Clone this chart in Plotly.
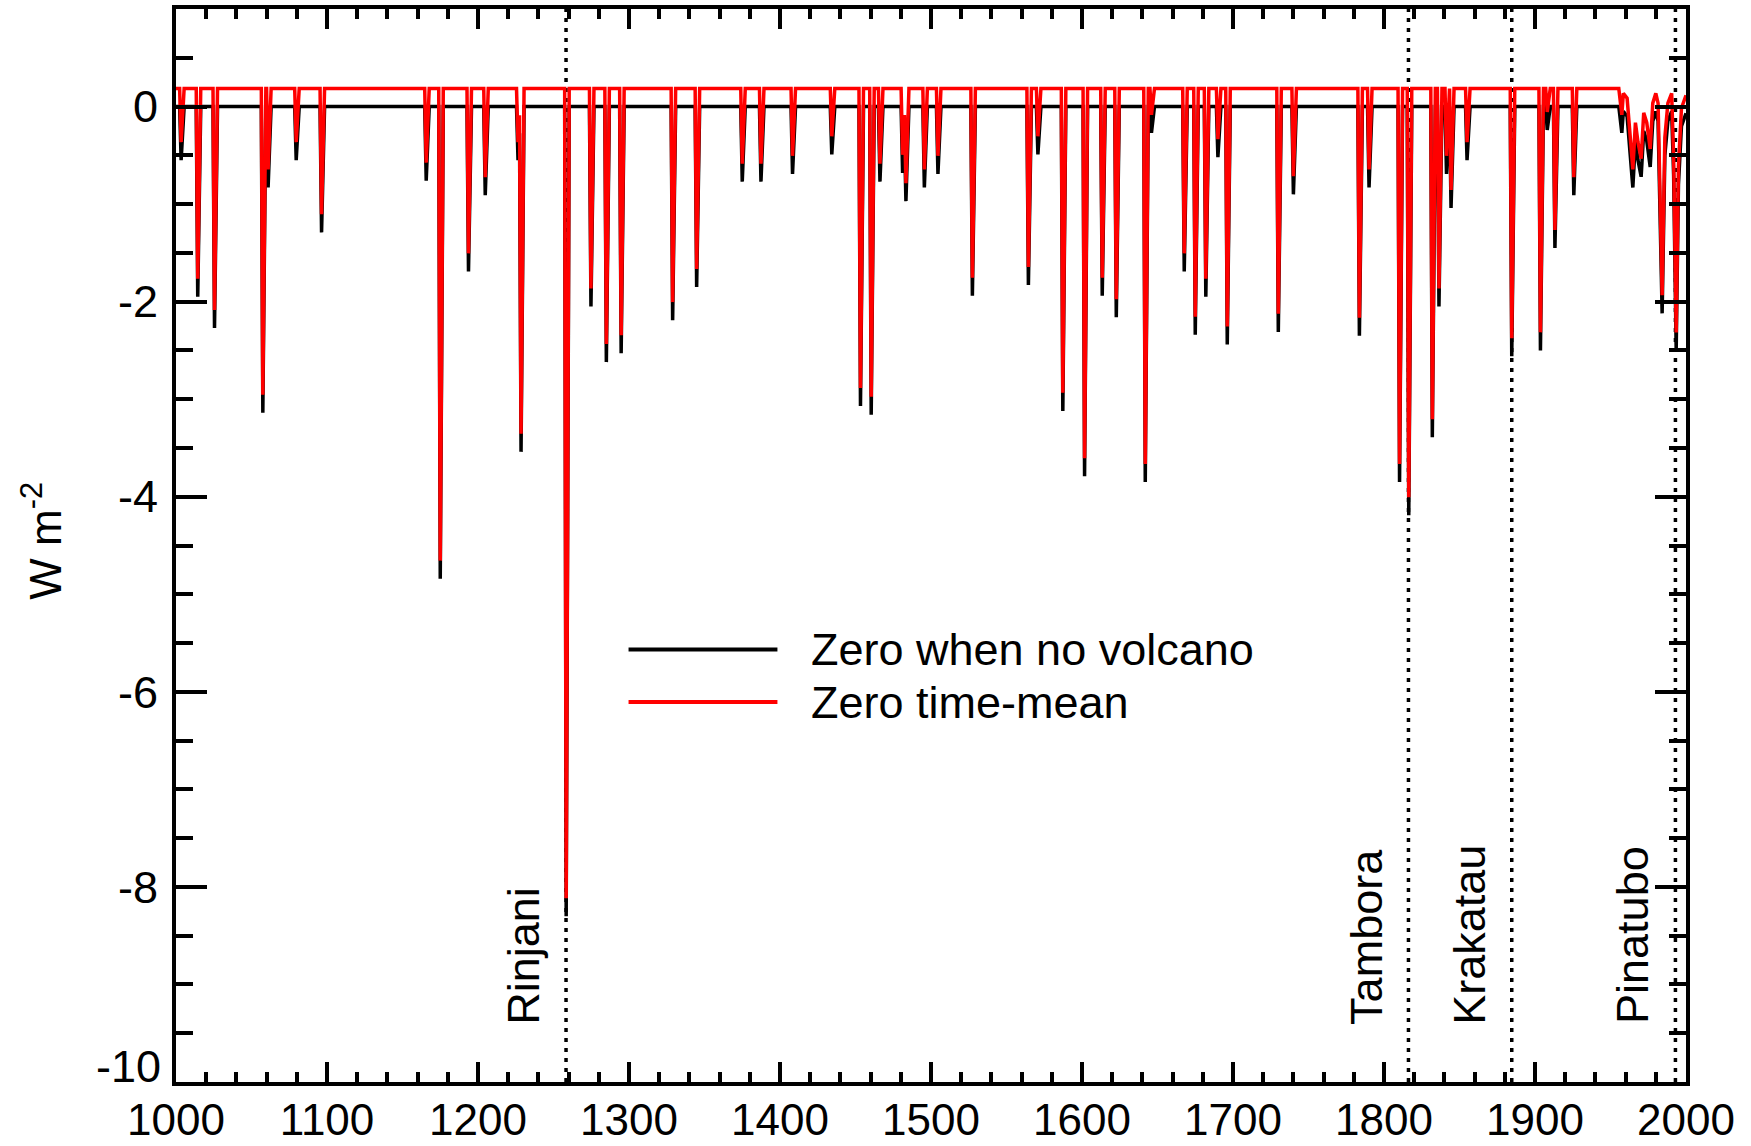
import plotly.graph_objects as go

# ---------------- data ----------------
spike_years = [1003.4, 1014.4, 1025.5, 1057.5, 1061.0, 1079.6, 1096.4, 1165.7, 1175.0, 1193.7,
               1204.8, 1226.5, 1228.5, 1258.4, 1274.8, 1285.0, 1294.8, 1328.9, 1344.8, 1375.0,
               1387.4, 1408.3, 1434.3, 1453.3, 1460.4, 1466.2, 1481.2, 1483.4, 1495.6, 1504.6,
               1527.4, 1564.5, 1570.8, 1587.3, 1601.7, 1613.4, 1622.7, 1641.9, 1646.0, 1667.7,
               1675.0, 1682.0, 1690.0, 1696.2, 1730.0, 1740.0, 1783.7, 1790.1, 1810.3, 1816.4,
               1832.0, 1836.4, 1841.4, 1844.4, 1855.0, 1884.6, 1903.6, 1908.1, 1913.2, 1925.7]
spike_peaks = [-0.55, -1.95, -2.27, -3.14, -0.83, -0.55, -1.29, -0.76, -4.84, -1.69,
               -0.91, -0.55, -3.54, -8.30, -2.05, -2.62, -2.53, -2.19, -1.85, -0.77,
               -0.77, -0.69, -0.49, -3.07, -3.16, -0.77, -0.68, -0.97, -0.83, -0.69,
               -1.94, -1.83, -0.49, -3.12, -3.79, -1.94, -2.16, -3.85, -0.27, -1.69,
               -2.34, -1.95, -0.52, -2.44, -2.31, -0.90, -2.35, -0.83, -3.85, -4.19,
               -3.39, -2.05, -0.69, -1.04, -0.55, -2.56, -2.50, -0.24, -1.45, -0.91]

# modern (continuous) record, 1955-2000
modern_years = [1955.5, 1957.5, 1958.5, 1961.0, 1963.0, 1964.8, 1966.5, 1968.2, 1970.3, 1972.0,
                1974.0, 1976.3, 1978.0, 1980.0, 1981.5, 1982.5, 1984.2, 1986.0, 1988.0, 1990.5,
                1991.8, 1993.5, 1995.0, 1997.0, 2000.0]
modern_values = [0.0, -0.27, -0.05, -0.10, -0.45, -0.83, -0.35, -0.55, -0.72, -0.25,
                 -0.35, -0.62, -0.15, -0.05, -0.15, -0.90, -2.12, -0.50, -0.15, -0.05,
                 -0.70, -2.50, -0.80, -0.20, -0.07]

time_mean_offset = 0.185          # shift of the "zero time-mean" series

volcano_names = ["Rinjani", "Tambora", "Krakatau", "Pinatubo"]
volcano_years = [1258.3, 1816.2, 1884.6, 1993.0]
volcano_label_x = [1230.1, 1788.4, 1856.6, 1964.6]

series_names = ["Zero when no volcano", "Zero time-mean"]

x_tick_vals = [1000, 1100, 1200, 1300, 1400, 1500, 1600, 1700, 1800, 1900, 2000]
x_tick_text = [str(v) for v in x_tick_vals]
y_tick_vals = [0, -2, -4, -6, -8]
y_tick_text = ["0", "-2", "-4", "-6", "-8"]
y_bottom_label = "-10"            # drawn a little above the corner, as in the original

# ---------------- build line vertices ----------------
RISE, DECAY = 1.0, 2.0


def spike_value(x):
    v = 0.0
    for yr, pk in zip(spike_years, spike_peaks):
        if yr - RISE <= x <= yr:
            f = 1 - (yr - x) / RISE
        elif yr < x <= yr + DECAY:
            f = 1 - (x - yr) / DECAY
        else:
            continue
        v = min(v, pk * f)
    return v


xs = {1000.0, modern_years[0] - 0.5}
for yr in spike_years:
    xs.update([yr - RISE, yr, yr + DECAY])
xs = sorted(xs)
black_x = list(xs) + modern_years
black_y = [spike_value(x) for x in xs] + modern_values
red_y = [v + time_mean_offset for v in black_y]

FONT = "Liberation Sans, Arial, Helvetica, sans-serif"

fig = go.Figure()
fig.add_trace(go.Scatter(x=black_x, y=black_y, mode="lines", name=series_names[0],
                         line=dict(color="black", width=3.5), showlegend=False))
fig.add_trace(go.Scatter(x=black_x, y=red_y, mode="lines", name=series_names[1],
                         line=dict(color="#ff0000", width=3.5), showlegend=False))

# dotted event lines
for yr in volcano_years:
    fig.add_shape(type="line", xref="x", yref="y", x0=yr, x1=yr, y0=-10, y1=1,
                  line=dict(color="black", width=3.5, dash="4px,6px"), layer="below")

# event labels
for name, lx in zip(volcano_names, volcano_label_x):
    fig.add_annotation(x=lx, y=-9.43, xref="x", yref="y", text=name, textangle=-90,
                       showarrow=False, xanchor="center", yanchor="bottom",
                       font=dict(family=FONT, size=45, color="black"))

# legend drawn by hand (long line samples)
leg_y = [-5.565, -6.105]
leg_col = ["black", "#ff0000"]
for yv, col, nm in zip(leg_y, leg_col, series_names):
    fig.add_shape(type="line", xref="x", yref="y", x0=1299.7, x1=1398.3, y0=yv, y1=yv,
                  line=dict(color=col, width=4))
    fig.add_annotation(x=1419.5, y=yv, xref="x", yref="y", text=nm, showarrow=False,
                       xanchor="left", yanchor="middle",
                       font=dict(family=FONT, size=45, color="black"))

# y axis title
fig.add_annotation(x=-0.0887, y=-4.45, xref="paper", yref="y", text="W m<sup>-2</sup>",
                   textangle=-90, showarrow=False, xanchor="center", yanchor="middle",
                   font=dict(family=FONT, size=44, color="black"))

# bottom y tick label, raised slightly off the corner
fig.add_annotation(x=0, y=-9.84, xref="paper", yref="y", text=y_bottom_label,
                   showarrow=False, xanchor="right", yanchor="middle", xshift=-13,
                   font=dict(family=FONT, size=45, color="black"))

axis_common = dict(showline=True, linewidth=4, linecolor="black", mirror="ticks",
                   showgrid=False, zeroline=False, ticks="inside", tickcolor="black",
                   tickwidth=3.5, automargin=False)

fig.update_layout(
    width=1751, height=1146,
    margin=dict(l=176, r=65, t=9, b=64),
    paper_bgcolor="white", plot_bgcolor="white",
    font=dict(family=FONT, color="black"),
    xaxis=dict(range=[1000, 2000], tickvals=x_tick_vals, ticktext=x_tick_text,
               ticklen=20, ticklabelstandoff=-4,
               tickfont=dict(family=FONT, size=44, color="black"),
               minor=dict(dtick=20, tick0=1000, ticks="inside", ticklen=10, tickwidth=3.5,
                          tickcolor="black", showgrid=False),
               **axis_common),
    yaxis=dict(range=[-10, 1], tickvals=y_tick_vals, ticktext=y_tick_text,
               ticklen=31, ticklabelstandoff=5,
               tickfont=dict(family=FONT, size=45, color="black"),
               minor=dict(dtick=0.5, tick0=0, ticks="inside", ticklen=17, tickwidth=3.5,
                          tickcolor="black", showgrid=False),
               **axis_common),
)

fig.write_html("out.html")
